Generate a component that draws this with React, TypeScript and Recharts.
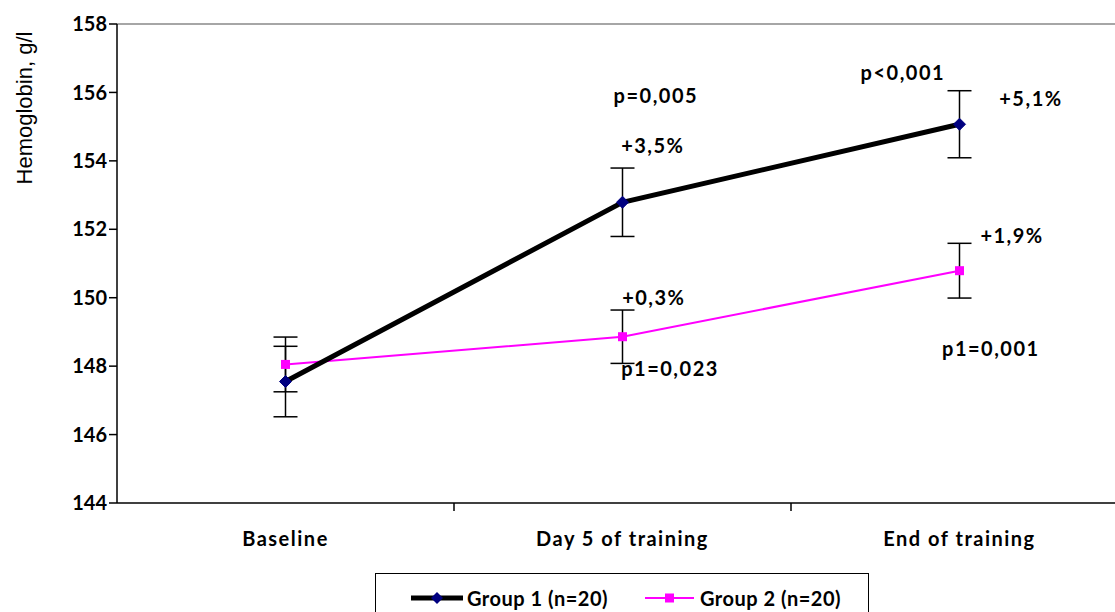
import {
  ComposedChart,
  Line,
  Scatter,
  XAxis,
  YAxis,
  ErrorBar,
  ReferenceLine,
} from "recharts";

const categories = ["Baseline", "Day 5 of training", "End of training"];
const group1 = [147.55, 152.79, 155.07];
const group1Err = [1.03, 1.0, 0.98];
const group2 = [148.05, 148.86, 150.79];
const group2Err = [0.8, 0.78, 0.8];
const yTicks = [144, 146, 148, 150, 152, 154, 156, 158];
const boundaryTicks = [0.5, 1.5];

const noteText = ["p=0,005", "+3,5%", "p<0,001", "+5,1%", "+0,3%", "p1=0,023", "+1,9%", "p1=0,001"];
const noteX = [1.099, 1.09, 1.832, 2.212, 1.093, 1.141, 2.156, 2.093];
const noteY = [155.92, 154.46, 156.6, 155.84, 150.02, 147.94, 151.83, 148.53];

const data = categories.map((c, i) => ({
  x: i,
  name: c,
  g1: group1[i],
  g1err: group1Err[i],
  g2: group2[i],
  g2err: group2Err[i],
}));

const notes = noteText.map((t, i) => ({ x: noteX[i], y: noteY[i], text: t }));

const FONT = "Lato, 'Open Sans', sans-serif";

function Diamond(props: any) {
  const { cx, cy } = props;
  if (cx == null || cy == null) return null;
  const r = 6;
  return (
    <polygon
      points={`${cx},${cy - r} ${cx + r},${cy} ${cx},${cy + r} ${cx - r},${cy}`}
      fill="#000080"
      stroke="#000080"
    />
  );
}

function Square(props: any) {
  const { cx, cy } = props;
  if (cx == null || cy == null) return null;
  return <rect x={cx - 4.5} y={cy - 4.5} width={9} height={9} fill="#FF00FF" />;
}

function NoteShape(props: any) {
  const { cx, cy, payload } = props;
  return (
    <text
      x={cx}
      y={cy}
      textAnchor="middle"
      dominantBaseline="central"
      fontFamily={FONT}
      fontWeight={700}
      fontSize={20}
      letterSpacing={1.5}
      fill="#000"
    >
      {payload.text}
    </text>
  );
}

function CategoryTick(props: any) {
  const { x, y, payload } = props;
  return (
    <text
      x={x}
      y={y + 17}
      textAnchor="middle"
      dominantBaseline="central"
      fontFamily={FONT}
      fontWeight={700}
      fontSize={20}
      letterSpacing={1.5}
      fill="#000"
    >
      {categories[payload.value]}
    </text>
  );
}

function ChartLegend() {
  return (
    <div
      style={{
        position: "absolute",
        left: 375,
        top: 573,
        width: 494,
        height: 50,
        border: "1.5px solid #000",
        boxSizing: "border-box",
      }}
    >
      <svg width={494} height={50} style={{ position: "absolute", left: 0, top: 0 }}>
        <line x1={35} y1={24} x2={87} y2={24} stroke="#000" strokeWidth={5} />
        <polygon points="61,18 67,24 61,30 55,24" fill="#000080" />
        <text x={91} y={24} dominantBaseline="central" fontFamily={FONT} fontWeight={700} fontSize={20} letterSpacing={0.5}>
          Group 1 (n=20)
        </text>
        <line x1={269} y1={24} x2={318} y2={24} stroke="#FF00FF" strokeWidth={2} />
        <rect x={289} y={19.5} width={9} height={9} fill="#FF00FF" />
        <text x={324} y={24} dominantBaseline="central" fontFamily={FONT} fontWeight={700} fontSize={20} letterSpacing={0.5}>
          Group 2 (n=20)
        </text>
      </svg>
    </div>
  );
}

export default function App() {
  return (
    <div
      style={{
        position: "absolute",
        left: 0,
        top: 0,
        width: 1115,
        height: 612,
        overflow: "hidden",
        background: "#fff",
      }}
    >
      <ComposedChart
        width={1140}
        height={612}
        data={data}
        margin={{ top: 24, right: 12, left: 0, bottom: 0 }}
      >
        <XAxis
          xAxisId="bound"
          dataKey="x"
          type="number"
          domain={[-0.5, 2.5]}
          ticks={boundaryTicks}
          tickFormatter={() => ""}
          tickSize={8}
          height={10}
          stroke="#000"
          strokeWidth={1.5}
          allowDataOverflow
        />
        <XAxis
          xAxisId="cat"
          dataKey="x"
          type="number"
          domain={[-0.5, 2.5]}
          ticks={[0, 1, 2]}
          tick={<CategoryTick />}
          tickLine={false}
          axisLine={false}
          height={99}
          allowDataOverflow
        />
        <YAxis
          domain={[144, 158]}
          ticks={yTicks}
          width={117}
          tickSize={8}
          stroke="#000"
          strokeWidth={1.5}
          tick={{ fill: "#000", fontSize: 20, fontWeight: 700, fontFamily: FONT }}
          allowDataOverflow
          label={{
            content: () => (
              <text
                x={24}
                y={108}
                transform="rotate(-90 24 108)"
                textAnchor="middle"
                dominantBaseline="central"
                fontFamily="'Liberation Sans', Arial, sans-serif"
                fontSize={22}
                fill="#000"
              >
                Hemoglobin, g/l
              </text>
            ),
          }}
        />
        <ReferenceLine xAxisId="cat" y={158} stroke="#888" strokeWidth={1.5} />
        <Line
          xAxisId="cat"
          dataKey="g2"
          stroke="#FF00FF"
          strokeWidth={2}
          dot={<Square />}
          activeDot={false}
          isAnimationActive={false}
        >
          <ErrorBar dataKey="g2err" width={12} stroke="#000" strokeWidth={1.5} direction="y" />
        </Line>
        <Line
          xAxisId="cat"
          dataKey="g1"
          stroke="#000"
          strokeWidth={5}
          dot={<Diamond />}
          activeDot={false}
          isAnimationActive={false}
        >
          <ErrorBar dataKey="g1err" width={12} stroke="#000" strokeWidth={1.5} direction="y" />
        </Line>
        <Scatter
          xAxisId="cat"
          data={notes}
          dataKey="y"
          shape={<NoteShape />}
          isAnimationActive={false}
        />
      </ComposedChart>
      <ChartLegend />
    </div>
  );
}
